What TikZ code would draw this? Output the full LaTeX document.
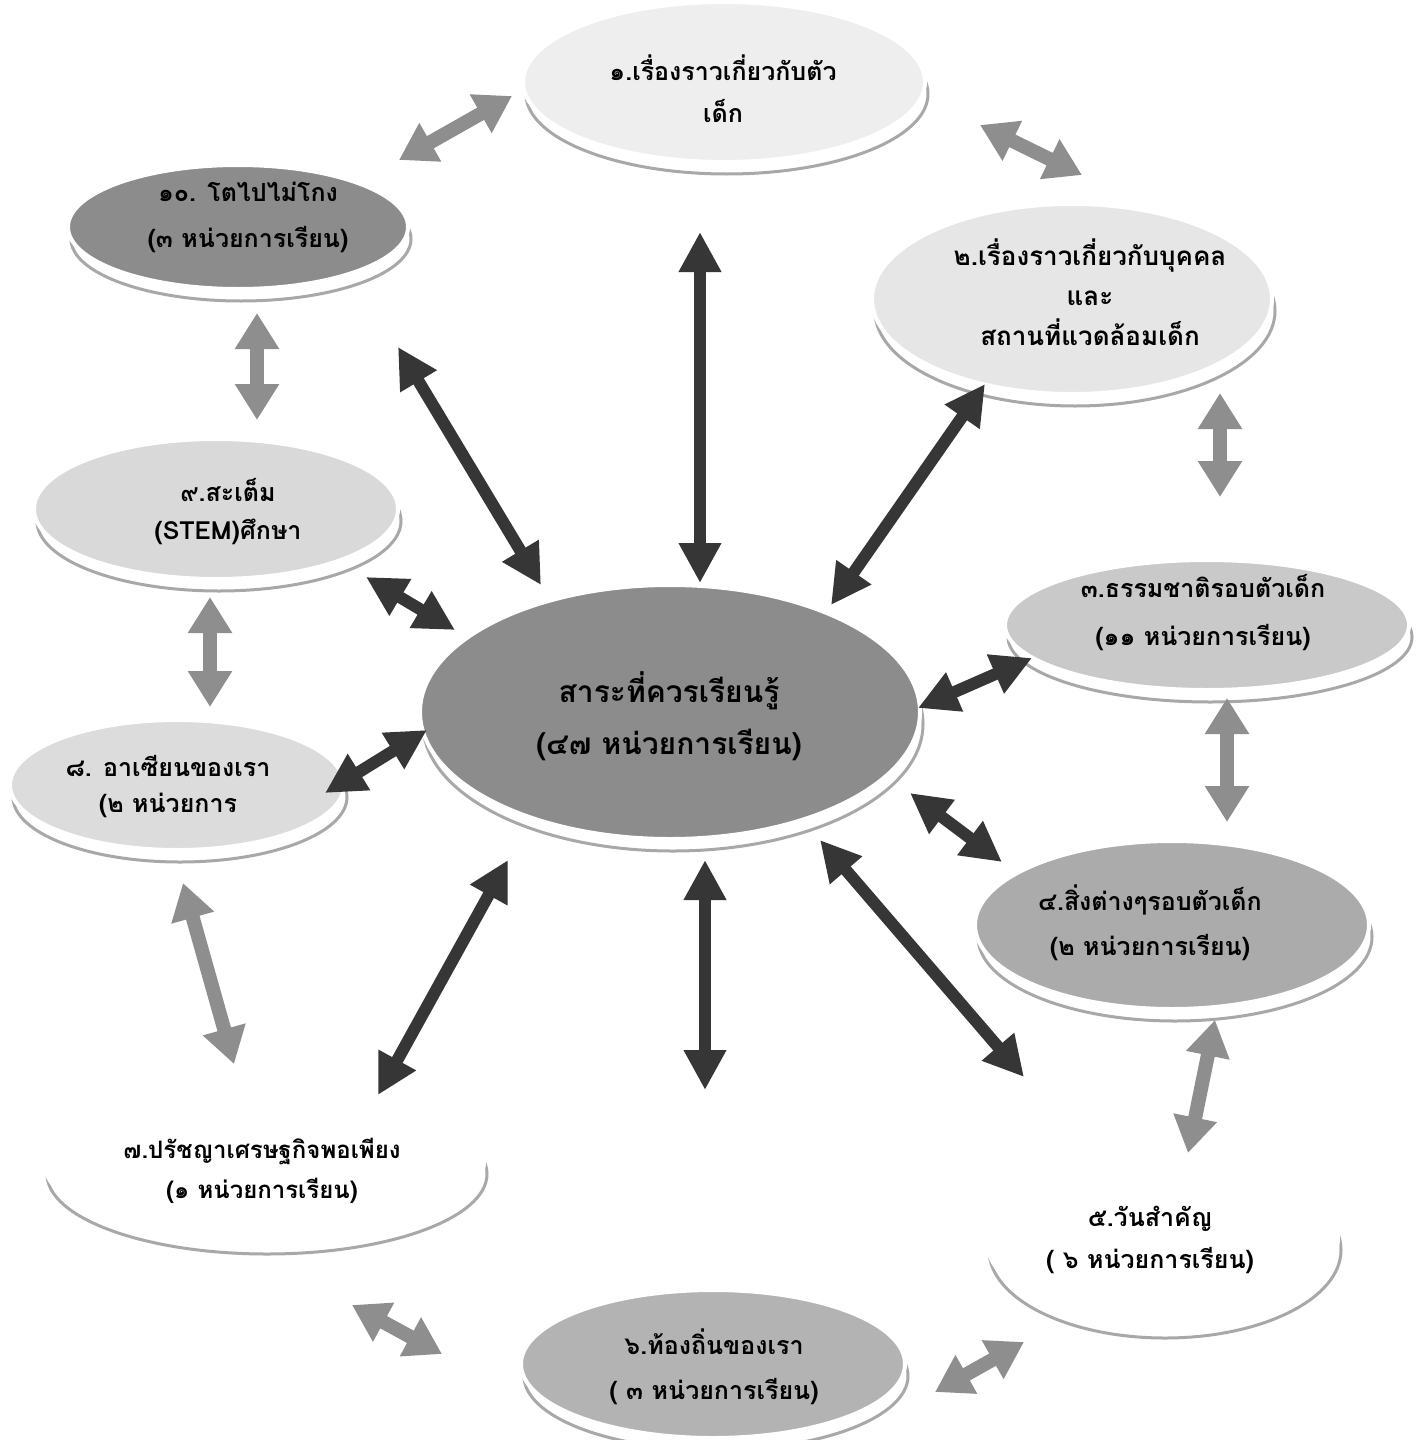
\documentclass[tikz,border=0pt]{standalone}
\usepackage{fontspec}
\newfontfamily\thaifont[Script=Thai]{Loma}
\usetikzlibrary{arrows.meta,shapes.geometric}
\definecolor{cone}{HTML}{EEEEEE}
\definecolor{ctwo}{HTML}{E6E6E6}
\definecolor{cten}{HTML}{8C8C8C}
\definecolor{cnine}{HTML}{D9D9D9}
\definecolor{ceight}{HTML}{DCDCDC}
\definecolor{ccenter}{HTML}{8C8C8C}
\definecolor{cthree}{HTML}{C9C9C9}
\definecolor{cfour}{HTML}{ABABAB}
\definecolor{csix}{HTML}{B3B3B3}
\definecolor{darkarrow}{HTML}{363636}
\definecolor{grayarrow}{HTML}{8E8E8E}
\definecolor{shadowgray}{HTML}{A8A8A8}
\begin{document}
\begin{tikzpicture}[x=0.5pt,y=-0.5pt,
  bub/.style={ellipse, inner sep=0pt, draw=white, line width=2pt,
    preaction={draw=shadowgray, line width=1.5pt, transform canvas={xshift=1.5pt,yshift=-6pt}}},
  lbl/.style={align=center, inner sep=0pt},
  fs/.style 2 args={font=\thaifont\bfseries\fontsize{#1}{#2}\selectfont},
  darr/.style={draw=darkarrow, line width=6pt,
    {Triangle[width=20pt,length=20pt]}-{Triangle[width=20pt,length=20pt]}},
  garr/.style={draw=grayarrow, line width=7pt,
    {Triangle[width=21pt,length=18pt]}-{Triangle[width=21pt,length=18pt]}}
]
\useasboundingbox (0,0) rectangle (1419,1440);
\fill[white] (0,0) rectangle (1419,1440);

% ellipses (minimum width in pt = horizontal radius in px)
\node[bub, fill=cone, minimum width=201pt, minimum height=80pt] (n1) at (724,82) {};
\node[bub, fill=cten, minimum width=170pt, minimum height=62pt] (n10) at (238,227) {};
\node[bub, fill=ctwo, minimum width=200pt, minimum height=95pt] (n2) at (1072,299) {};
\node[bub, fill=cnine, minimum width=182pt, minimum height=70pt] (n9) at (216,509) {};
\node[bub, fill=ccenter, minimum width=250pt, minimum height=127pt] (c) at (670,712) {};
\node[bub, fill=cthree, minimum width=202pt, minimum height=65pt] (n3) at (1207,625) {};
\node[bub, fill=ceight, minimum width=167pt, minimum height=65pt] (n8) at (177,785) {};
\node[bub, fill=cfour, minimum width=197pt, minimum height=84pt] (n4) at (1172,925) {};
\node[bub, fill=white, minimum width=220pt, minimum height=80pt] (n7) at (264,1162) {};
\node[bub, fill=white, minimum width=176pt, minimum height=88pt] (n5) at (1162,1238) {};
\node[bub, fill=csix, minimum width=192pt, minimum height=74pt] (n6) at (713,1364) {};

% labels
\node[lbl, fs={12.5}{21}] (t1) at (723,89) {๑.เรื่องราวเกี่ยวกับตัว\\เด็ก};
\node[lbl, fs={12.5}{23}] (t10) at (248,217) {๑๐. โตไปไม่โกง\\(๓ หน่วยการเรียน)};
\node[lbl, fs={13}{20}] (t2) at (1090,292) {๒.เรื่องราวเกี่ยวกับบุคคล\\และ\\สถานที่แวดล้อมเด็ก};
\node[lbl, fs={12.5}{19}] (t9) at (228,512) {๙.สะเต็ม\\(STEM)ศึกษา};
\node[lbl, fs={15}{26}] (tc) at (669,716) {สาระที่ควรเรียนรู้\\(๔๗ หน่วยการเรียน)};
\node[lbl, fs={12.5}{24}] (t3) at (1203,613) {๓.ธรรมชาติรอบตัวเด็ก\\(๑๑ หน่วยการเรียน)};
\node[lbl, fs={12.5}{18}] (t8) at (168,787) {๘. อาเซียนของเรา\\(๒ หน่วยการ};
\node[lbl, fs={12.5}{22.5}] (t4) at (1150,923) {๔.สิ่งต่างๆรอบตัวเด็ก\\(๒ หน่วยการเรียน)};
\node[lbl, fs={12}{20}] (t7) at (262,1171) {๗.ปรัชญาเศรษฐกิจพอเพียง\\(๑ หน่วยการเรียน)};
\node[lbl, fs={12.5}{21}] (t5) at (1150,1240) {๕.วันสำคัญ\\( ๖ หน่วยการเรียน)};
\node[lbl, fs={12.5}{22.5}] (t6) at (714,1367) {๖.ท้องถิ่นของเรา\\( ๓ หน่วยการเรียน)};

% arrow end points
\coordinate (d1a) at (700,232);  \coordinate (d1b) at (700,583);
\coordinate (d2a) at (985,384);  \coordinate (d2b) at (831,605);
\coordinate (d10a) at (398,347); \coordinate (d10b) at (541,585);
\coordinate (d9a) at (366,577);  \coordinate (d9b) at (455,630);
\coordinate (d8a) at (325,793);  \coordinate (d8b) at (427,730);
\coordinate (d3a) at (1032,658); \coordinate (d3b) at (918,708);
\coordinate (d4a) at (910,793);  \coordinate (d4b) at (1002,862);
\coordinate (d5a) at (820,840);  \coordinate (d5b) at (1024,1077);
\coordinate (d6a) at (705,860);  \coordinate (d6b) at (705,1090);
\coordinate (d7a) at (508,860);  \coordinate (d7b) at (378,1095);

\coordinate (g1a) at (512,96);   \coordinate (g1b) at (399,160);
\coordinate (g2a) at (980,125);  \coordinate (g2b) at (1082,175);
\coordinate (g10a) at (257,313); \coordinate (g10b) at (257,420);
\coordinate (g3a) at (1220,393); \coordinate (g3b) at (1220,497);
\coordinate (g9a) at (210,597);  \coordinate (g9b) at (210,707);
\coordinate (g4a) at (1227,698); \coordinate (g4b) at (1227,822);
\coordinate (g8a) at (183,883);  \coordinate (g8b) at (234,1064);
\coordinate (g5a) at (1215,1020); \coordinate (g5b) at (1188,1153);
\coordinate (g7a) at (352,1305); \coordinate (g7b) at (442,1354);
\coordinate (g6a) at (935,1392); \coordinate (g6b) at (1024,1342);

% dark connectors (centre <-> topics)
\foreach \a/\b in {d1a/d1b,d2a/d2b,d10a/d10b,d9a/d9b,d8a/d8b,d3a/d3b,d4a/d4b,d5a/d5b,d6a/d6b,d7a/d7b}
  \draw[darr] (\a) -- (\b);
% grey connectors (topic <-> topic)
\foreach \a/\b in {g1a/g1b,g2a/g2b,g10a/g10b,g3a/g3b,g9a/g9b,g4a/g4b,g8a/g8b,g5a/g5b,g7a/g7b,g6a/g6b}
  \draw[garr] (\a) -- (\b);
\end{tikzpicture}
\end{document}
